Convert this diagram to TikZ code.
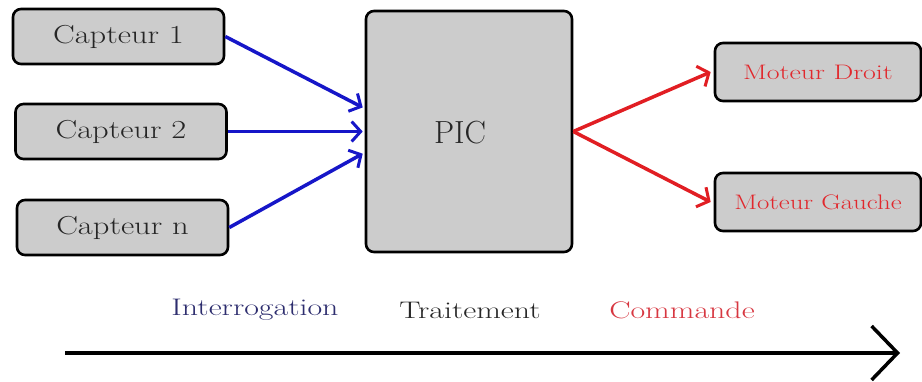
\documentclass[tikz,border=0pt]{standalone}
\usepackage{graphicx}
\usetikzlibrary{arrows.meta}
\definecolor{boxgray}{RGB}{204,204,204}
\definecolor{arrblue}{RGB}{22,22,200}
\definecolor{arrred}{RGB}{225,30,35}
\definecolor{navytxt}{RGB}{45,45,110}
\definecolor{redtxt}{RGB}{215,55,65}
\definecolor{motred}{RGB}{225,40,45}
\newcommand{\wide}[1]{\scalebox{1.25}[1]{#1}}
\newcommand{\wider}[1]{\scalebox{1.33}[1]{#1}}
\begin{document}
\begin{tikzpicture}[x=1pt,y=-1pt,
  blk/.style={draw=black,fill=boxgray,line width=2.6pt,rounded corners=8pt,inner sep=0pt},
  capt/.style={blk,minimum width=211pt,minimum height=55pt,font=\fontsize{26}{30}\selectfont,text=black!85},
  mot/.style={blk,minimum width=206pt,minimum height=58pt,font=\fontsize{21}{25}\selectfont,text=motred},
  inarr/.style={draw=arrblue,line width=3.5pt,-{Straight Barb[length=9pt,width=20pt,line width=3pt]}},
  outarr/.style={draw=arrred,line width=3.5pt,-{Straight Barb[length=9pt,width=22pt,line width=3pt]}},
  phase/.style={font=\fontsize{24}{28}\selectfont}]
\useasboundingbox (0,0) rectangle (922,381);
\node[capt] (c1) at (118.5,36.5) {\wide{Capteur 1}};
\node[capt] (c2) at (121,131.5) {\wide{Capteur 2}};
\node[capt] (cn) at (122.5,227.5) {\wide{Capteur n}};
\node[blk,minimum width=206pt,minimum height=241pt] (pic) at (469,131.5) {};
\node[font=\fontsize{32}{36}\selectfont,text=black!85] (pictxt) at (460,133) {PIC};
\node[mot] (md) at (818,72) {\wider{Moteur Droit}};
\node[mot] (mg) at (818,202) {\scalebox{1.28}[1]{Moteur Gauche}};
\draw[inarr] (c1.east) -- ([xshift=-2pt]pic.167.5);
\draw[inarr] (c2.east) -- ([xshift=-2pt]pic.west);
\draw[inarr] (cn.east) -- ([xshift=-2pt]pic.192.5);
\draw[outarr] (pic.east) -- ([xshift=-3pt]md.west);
\draw[outarr] (pic.east) -- ([xshift=-3pt]mg.west);
\node[phase,text=navytxt] (inter) at (255,310) {\wider{Interrogation}};
\node[phase,text=black!85] (trait) at (470,310) {\wider{Traitement}};
\node[phase,text=redtxt] (comm) at (682,310) {\wider{Commande}};
\coordinate (tl) at (65,353);
\coordinate (tr) at (900,353);
\draw[line width=3.5pt,-{Straight Barb[length=26pt,width=54pt,line width=3.5pt]}] (tl) -- (tr);
\end{tikzpicture}
\end{document}
